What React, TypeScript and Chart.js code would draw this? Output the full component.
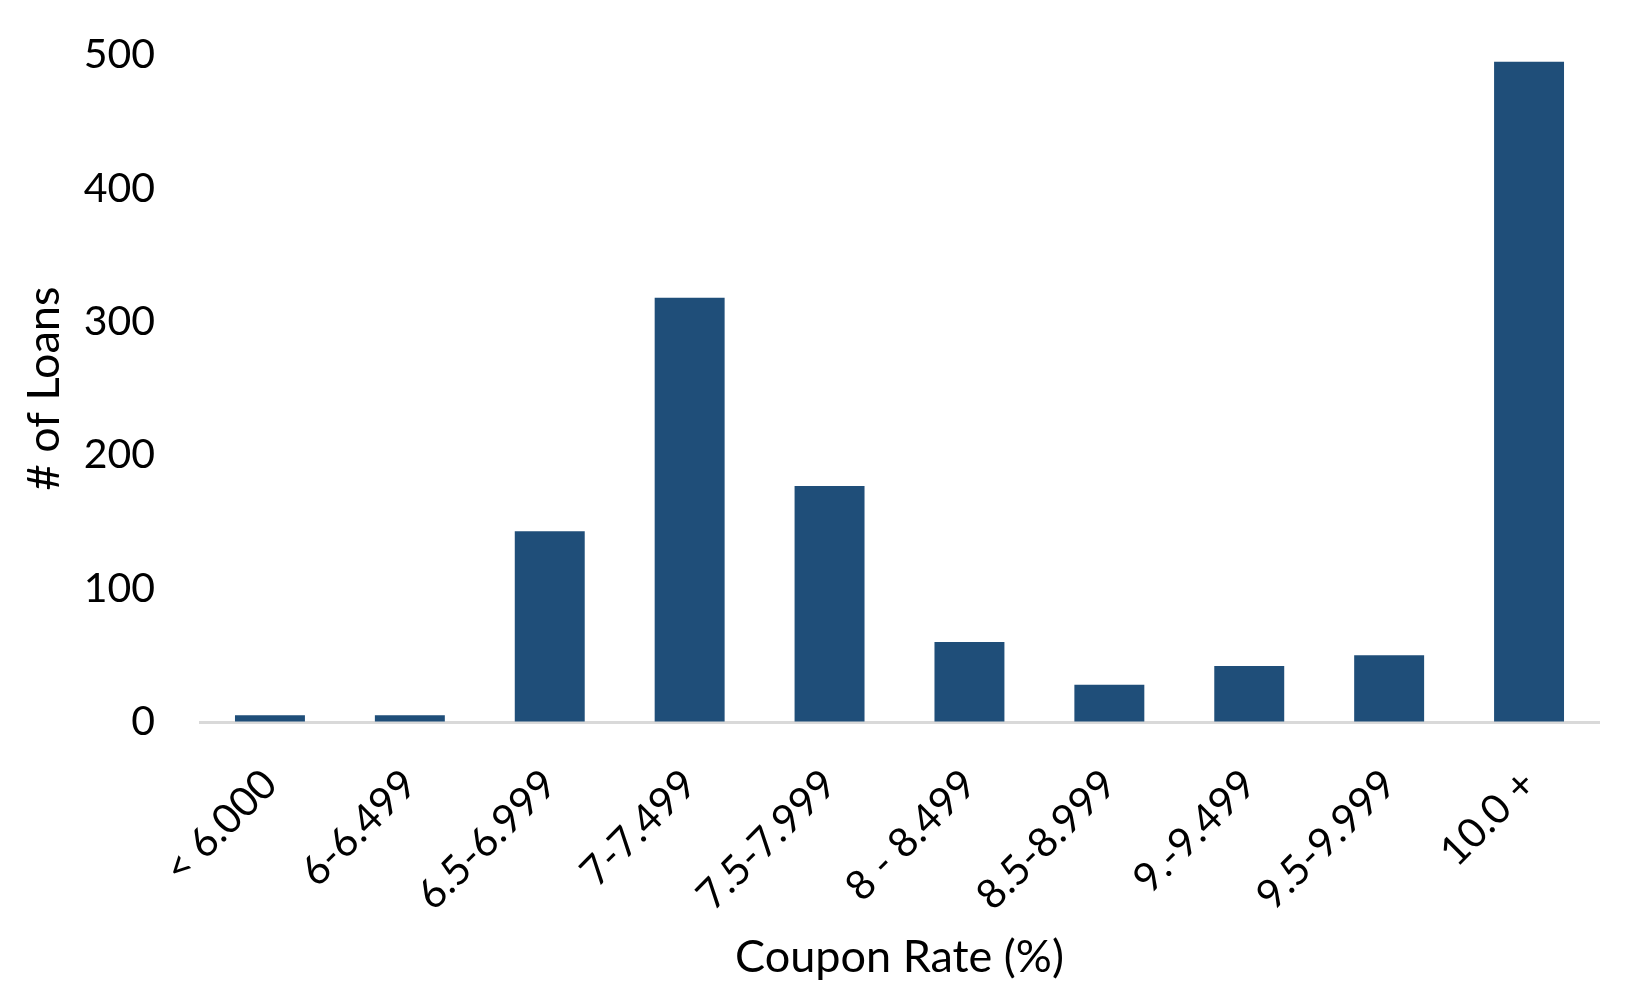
import React, { useEffect, useRef } from "react";
import { Chart, registerables } from "chart.js";

Chart.register(...registerables);

const categories = [
  "< 6.000",
  "6-6.499",
  "6.5-6.999",
  "7-7.499",
  "7.5-7.999",
  "8 - 8.499",
  "8.5-8.999",
  "9.-9.499",
  "9.5-9.999",
  "10.0 +",
];
const loanCounts = [5, 5, 143, 318, 177, 60, 28, 42, 50, 495];
const yTickValues = [0, 100, 200, 300, 400, 500];
const xTitle = "Coupon Rate (%)";
const yTitle = "# of Loans";

const FONT = "Lato, 'Open Sans', 'DejaVu Sans', sans-serif";

export default function App() {
  const ref = useRef<HTMLCanvasElement>(null);

  useEffect(() => {
    document.body.style.margin = "0";
    const chart = new Chart(ref.current as HTMLCanvasElement, {
      type: "bar",
      data: {
        labels: categories,
        datasets: [
          {
            data: loanCounts,
            backgroundColor: "#1F4E79",
            borderWidth: 0,
            barPercentage: 0.5,
            categoryPercentage: 1,
          },
        ],
      },
      options: {
        responsive: false,
        animation: false,
        devicePixelRatio: 1,
        layout: { padding: { top: 55, right: 51, left: 0, bottom: 0 } },
        plugins: {
          legend: { display: false },
          tooltip: { enabled: false },
        },
        scales: {
          x: {
            grid: { display: false, drawTicks: false },
            border: { display: true, color: "#D9D9D9", width: 3 },
            ticks: {
              color: "#000",
              font: { family: FONT, size: 41 },
              maxRotation: 45,
              minRotation: 45,
              padding: 38,
              autoSkip: false,
            },
            title: {
              display: true,
              text: xTitle,
              color: "#000",
              font: { family: FONT, size: 45 },
              padding: { top: 0, bottom: 6 },
            },
            afterFit: (s: any) => {
              s.height = 268;
            },
          },
          y: {
            min: 0,
            max: 500,
            afterBuildTicks: (s: any) => {
              s.ticks = yTickValues.map((v) => ({ value: v }));
            },
            grid: {
              display: true,
              drawOnChartArea: false,
              drawTicks: true,
              tickLength: 42,
              color: "rgba(0,0,0,0)",
            },
            border: { display: false },
            ticks: {
              color: "#000",
              font: { family: FONT, size: 41 },
              padding: 3,
            },
            title: {
              display: true,
              text: yTitle,
              color: "#000",
              font: { family: FONT, size: 45 },
              padding: { top: 17, bottom: 0 },
            },
            afterFit: (s: any) => {
              s.width = 200;
            },
          },
        },
      },
    });
    return () => chart.destroy();
  }, []);

  return (
    <canvas
      ref={ref}
      width={1650}
      height={990}
      style={{ display: "block", width: 1650, height: 990 }}
    />
  );
}
